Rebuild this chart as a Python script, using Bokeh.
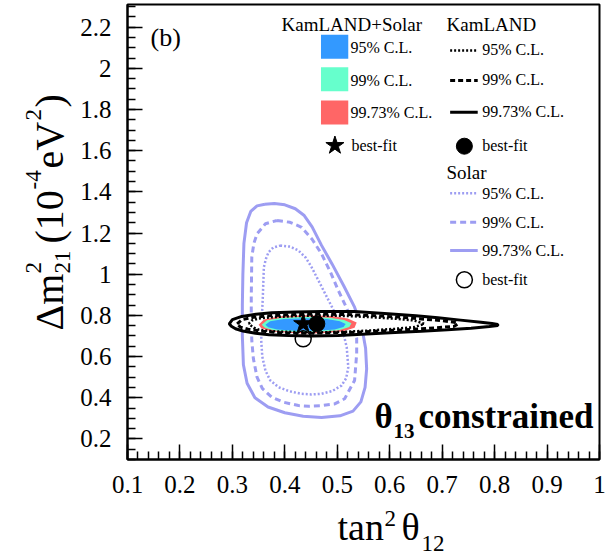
from math import pi
from bokeh.plotting import figure
from bokeh.layouts import row, column
from bokeh.models import Range1d, FixedTicker, Label
from bokeh.embed import file_html
from bokeh.resources import INLINE

# ---------------- data ----------------
x_ticks = [0.1, 0.2, 0.3, 0.4, 0.5, 0.6, 0.7, 0.8, 0.9, 1.0]
x_tick_labels = ["0.1", "0.2", "0.3", "0.4", "0.5", "0.6", "0.7", "0.8", "0.9", "1"]
y_ticks = [0.2, 0.4, 0.6, 0.8, 1.0, 1.2, 1.4, 1.6, 1.8, 2.0, 2.2]
y_tick_labels = ["0.2", "0.4", "0.6", "0.8", "1", "1.2", "1.4", "1.6", "1.8", "2", "2.2"]

# Solar contours
solar_9973_x = [0.362, 0.380, 0.400, 0.420, 0.437, 0.452, 0.470, 0.490, 0.512, 0.533, 0.547, 0.554, 0.556, 0.553,
                0.545, 0.530, 0.505, 0.470, 0.435, 0.400, 0.368, 0.343, 0.328, 0.321, 0.319, 0.319, 0.320, 0.322,
                0.327, 0.335, 0.347]
solar_9973_y = [1.340, 1.343, 1.337, 1.318, 1.285, 1.230, 1.140, 1.050, 0.945, 0.840, 0.740, 0.640, 0.540, 0.450,
                0.380, 0.335, 0.312, 0.304, 0.310, 0.327, 0.355, 0.400, 0.470, 0.560, 0.700, 0.850, 1.000, 1.150,
                1.250, 1.305, 1.332]
solar_99_x = [0.385, 0.410, 0.432, 0.452, 0.470, 0.487, 0.502, 0.517, 0.530, 0.537, 0.537, 0.533, 0.514, 0.495,
              0.470, 0.446, 0.426, 0.398, 0.375, 0.357, 0.347, 0.340, 0.337, 0.336, 0.336, 0.337, 0.341, 0.347,
              0.363]
solar_99_y = [1.261, 1.252, 1.228, 1.170, 1.099, 1.010, 0.921, 0.840, 0.759, 0.690, 0.613, 0.484, 0.395, 0.370,
              0.362, 0.359, 0.362, 0.378, 0.403, 0.445, 0.500, 0.590, 0.678, 0.780, 0.888, 1.083, 1.150, 1.196,
              1.245]
solar_95_x = [0.391, 0.410, 0.426, 0.440, 0.451, 0.464, 0.477, 0.490, 0.502, 0.512, 0.518, 0.521, 0.517, 0.508,
              0.490, 0.470, 0.450, 0.432, 0.408, 0.388, 0.372, 0.363, 0.357, 0.355, 0.356, 0.358, 0.360, 0.364,
              0.369, 0.378]
solar_95_y = [1.139, 1.134, 1.115, 1.080, 1.034, 0.970, 0.905, 0.840, 0.775, 0.710, 0.645, 0.548, 0.495, 0.459,
              0.432, 0.419, 0.416, 0.419, 0.432, 0.451, 0.485, 0.532, 0.600, 0.678, 0.780, 0.888, 1.034, 1.075,
              1.107, 1.130]

# KamLAND contours
kam_9973_x = [0.294, 0.300, 0.318, 0.345, 0.375, 0.420, 0.470, 0.533, 0.597, 0.650, 0.692, 0.735, 0.774, 0.795,
              0.806, 0.806, 0.790, 0.755, 0.710, 0.660, 0.610, 0.565, 0.502, 0.450, 0.407, 0.370, 0.344, 0.320,
              0.306, 0.298]
kam_9973_y = [0.759, 0.779, 0.795, 0.806, 0.813, 0.817, 0.819, 0.819, 0.808, 0.798, 0.788, 0.777, 0.767, 0.761,
              0.756, 0.751, 0.746, 0.738, 0.730, 0.723, 0.717, 0.711, 0.702, 0.700, 0.702, 0.706, 0.713, 0.724,
              0.735, 0.747]
kam_99_x = [0.309, 0.318, 0.340, 0.375, 0.420, 0.470, 0.520, 0.565, 0.615, 0.660, 0.700, 0.723, 0.730, 0.723,
            0.690, 0.628, 0.580, 0.533, 0.485, 0.439, 0.395, 0.356, 0.330, 0.315]
kam_99_y = [0.759, 0.779, 0.791, 0.799, 0.804, 0.806, 0.804, 0.799, 0.792, 0.783, 0.774, 0.767, 0.759, 0.747,
            0.740, 0.730, 0.724, 0.718, 0.715, 0.713, 0.715, 0.723, 0.733, 0.743]
kam_95_x = [0.331, 0.337, 0.350, 0.375, 0.420, 0.470, 0.520, 0.565, 0.610, 0.647, 0.666, 0.647, 0.610, 0.565,
            0.520, 0.470, 0.420, 0.375, 0.350, 0.341]
kam_95_y = [0.759, 0.775, 0.785, 0.791, 0.797, 0.799, 0.797, 0.791, 0.784, 0.775, 0.759, 0.743, 0.735, 0.727,
            0.721, 0.718, 0.719, 0.723, 0.731, 0.740]

# KamLAND + Solar filled regions
comb_9973_x = [0.350, 0.360, 0.390, 0.440, 0.490, 0.520, 0.537, 0.533, 0.510, 0.470, 0.420, 0.375, 0.355]
comb_9973_y = [0.755, 0.780, 0.796, 0.801, 0.797, 0.785, 0.765, 0.740, 0.722, 0.713, 0.713, 0.722, 0.737]
comb_99_x = [0.356, 0.366, 0.395, 0.440, 0.485, 0.513, 0.527, 0.523, 0.503, 0.468, 0.420, 0.380, 0.362]
comb_99_y = [0.755, 0.776, 0.789, 0.793, 0.789, 0.778, 0.762, 0.743, 0.728, 0.720, 0.719, 0.727, 0.740]
comb_95_x = [0.363, 0.372, 0.398, 0.440, 0.480, 0.505, 0.516, 0.512, 0.495, 0.462, 0.420, 0.385, 0.368]
comb_95_y = [0.755, 0.772, 0.783, 0.786, 0.782, 0.772, 0.758, 0.743, 0.731, 0.725, 0.725, 0.731, 0.742]

# best fits
bf_comb = (0.435, 0.759)
bf_kam = (0.461, 0.759)
bf_solar = (0.435, 0.686)

# ---------------- layout ----------------
W, H = 613, 557
YLW = 77            # strip for the y-axis title
MAIN_H = 504        # main figure height; below it a strip for the x-axis title
FL, FR, FT, FB = 125, 599, 4, 459   # frame edges in page pixels
X0, X1 = 0.1, 1.0
Y0, Y1 = 0.1, 2.31

SOLAR = "#9d9df2"
BLUE, GREEN, RED = "#3399ff", "#66ffcc", "#ff6666"
SERIF = "Liberation Serif"

p = figure(width=W - YLW, height=MAIN_H, x_range=Range1d(X0, X1), y_range=Range1d(Y0, Y1),
           output_backend="svg", toolbar_location=None,
           min_border_left=FL - YLW, min_border_right=W - FR, min_border_top=FT,
           min_border_bottom=MAIN_H - FB)
p.grid.visible = False
p.outline_line_color = "black"
p.outline_line_width = 2
p.background_fill_color = "white"
p.border_fill_color = "white"

minor_x = [round(0.1 + 0.02 * i, 4) for i in range(46)]
minor_y = [round(0.1 + 0.05 * i, 4) for i in range(45)]
p.xaxis.ticker = FixedTicker(ticks=x_ticks, minor_ticks=minor_x)
p.yaxis.ticker = FixedTicker(ticks=y_ticks, minor_ticks=minor_y)
p.xaxis.major_label_overrides = dict(zip(x_ticks, x_tick_labels))
p.yaxis.major_label_overrides = dict(zip(y_ticks, y_tick_labels))

for ax in (p.xaxis[0], p.yaxis[0]):
    ax.axis_line_color = "black"
    ax.axis_line_width = 2
    ax.major_tick_in = 15
    ax.major_tick_out = 0
    ax.minor_tick_in = 8
    ax.minor_tick_out = 0
    ax.major_tick_line_width = 1.5
    ax.minor_tick_line_width = 1.5
    ax.major_tick_line_color = "black"
    ax.minor_tick_line_color = "black"
    ax.major_label_text_font = SERIF
    ax.major_label_text_font_size = "25px"
    ax.major_label_text_color = "black"
p.xaxis.major_label_standoff = 16
p.yaxis.major_label_standoff = 16


def closed(a):
    return list(a) + [a[0]]


# solar contours
p.line(closed(solar_9973_x), closed(solar_9973_y), line_color=SOLAR, line_width=3)
p.line(closed(solar_99_x), closed(solar_99_y), line_color=SOLAR, line_width=3, line_dash="6 4")
p.line(closed(solar_95_x), closed(solar_95_y), line_color=SOLAR, line_width=2.5, line_dash="2 2")

# KamLAND 99.73% (white filled)
p.patch(kam_9973_x, kam_9973_y, fill_color="white", line_color="black", line_width=3)

# combined
p.patch(comb_9973_x, comb_9973_y, fill_color=RED, line_color=None)
p.patch(comb_99_x, comb_99_y, fill_color=GREEN, line_color=None)
p.patch(comb_95_x, comb_95_y, fill_color=BLUE, line_color=None)

p.line(closed(kam_99_x), closed(kam_99_y), line_color="black", line_width=3, line_dash="5 3")
p.line(closed(kam_95_x), closed(kam_95_y), line_color="black", line_width=2.5, line_dash="2 2")

# best fits
p.scatter([bf_comb[0]], [bf_comb[1]], marker="star", size=20, color="black")
p.scatter([bf_kam[0]], [bf_kam[1]], marker="circle", size=16, color="black")
p.scatter([bf_solar[0]], [bf_solar[1]], marker="circle", size=16, fill_color=None,
          line_color="black", line_width=1.5)


# ---------------- helpers ----------------
def dx(px):
    return X0 + (px - FL) * (X1 - X0) / (FR - FL)


def dy(py):
    return Y0 + (FB - py) * (Y1 - Y0) / (FB - FT)


def lab(fig, ox, oy, text, x, y, size, bold=False, angle=0.0):
    # (x, y): left end / vertical middle of the text, in page pixels
    fig.add_layout(Label(x=x - ox, y=y - oy, x_units="canvas", y_units="canvas", text=text,
                         text_font=SERIF, text_font_size=f"{size}px",
                         text_font_style="bold" if bold else "normal",
                         text_align="left", text_baseline="middle", angle=angle,
                         text_color="black"))


def mlab(text, x, y, size, **kw):
    lab(p, YLW, 0, text, x, y, size, **kw)


# ---------------- legend (drawn) ----------------
sq_tops = [34.3, 66.7, 100.0]
sq_cols = [BLUE, GREEN, RED]
for t, c in zip(sq_tops, sq_cols):
    p.quad(left=dx(319.3), right=dx(346.7), top=dy(t), bottom=dy(t + 24), fill_color=c, line_color=None)
p.scatter([dx(333.3)], [dy(145)], marker="star", size=19, color="black")

cl_texts = ["95% C.L.", "99% C.L.", "99.73% C.L."]
mlab("KamLAND+Solar", 281, 23.5, 19)
for t, yy in zip(cl_texts, [47, 80, 112]):
    mlab(t, 350, yy, 16)
mlab("best-fit", 351, 145, 16)

mlab("KamLAND", 446, 23.5, 19)
kam_styles = [(2.5, "2 2"), (3, "5 3"), (3, "solid")]
for (w, d), yy, t in zip(kam_styles, [50, 80, 111.7], cl_texts):
    p.line([dx(449), dx(476.7)], [dy(yy), dy(yy)], line_color="black", line_width=w, line_dash=d)
    mlab(t, 481.7, yy - 1, 16)
p.scatter([dx(463.3)], [dy(145.7)], marker="circle", size=16, color="black")
mlab("best-fit", 481.7, 145, 16)

mlab("Solar", 446, 171.5, 19)
sol_styles = [(2.5, "2 2"), (3, "6 4"), (3, "solid")]
for (w, d), yy, t in zip(sol_styles, [192.7, 221.7, 250], cl_texts):
    p.line([dx(449), dx(476.7)], [dy(yy), dy(yy)], line_color=SOLAR, line_width=w, line_dash=d)
    mlab(t, 481.7, yy, 16)
p.scatter([dx(463.3)], [dy(279.3)], marker="circle", size=16, fill_color=None,
          line_color="black", line_width=1.5)
mlab("best-fit", 481.7, 279, 16)

# panel tag
mlab("(b)", 150, 37, 26)

# theta13 constrained
mlab("θ", 374, 416, 35, bold=True)
mlab("13", 393, 430, 21, bold=True)
mlab("constrained", 418, 416, 35, bold=True)


# ---------------- axis-title strips ----------------
def strip(w, h):
    f = figure(width=w, height=h, x_range=Range1d(0, 1), y_range=Range1d(0, 1),
               output_backend="svg", toolbar_location=None, x_axis_type=None, y_axis_type=None,
               min_border=0)
    f.outline_line_color = None
    f.grid.visible = False
    f.background_fill_color = "white"
    f.border_fill_color = "white"
    return f


xl = strip(W - YLW, H - MAIN_H)
XO, YO = YLW, MAIN_H
lab(xl, XO, YO, "tan", 337, 526, 38)
lab(xl, XO, YO, "2", 384, 517.5, 23)
lab(xl, XO, YO, "θ", 401, 526, 38)
lab(xl, XO, YO, "12", 421, 543, 23)

yl = strip(YLW, H)
A = pi / 2
lab(yl, 0, 0, "Δm", 49, 330, 40, angle=A)
lab(yl, 0, 0, "2", 33, 273, 23, angle=A)
lab(yl, 0, 0, "21", 62, 273, 23, angle=A)
lab(yl, 0, 0, "(10", 49, 243, 40, angle=A)
lab(yl, 0, 0, "-4", 33, 189, 23, angle=A)
lab(yl, 0, 0, "eV", 49, 168, 40, angle=A)
lab(yl, 0, 0, "2", 33, 120, 23, angle=A)
lab(yl, 0, 0, ")", 49, 107, 40, angle=A)

layout = row(yl, column(p, xl, spacing=0), spacing=0)
open("out.html", "w").write(file_html(layout, INLINE))
